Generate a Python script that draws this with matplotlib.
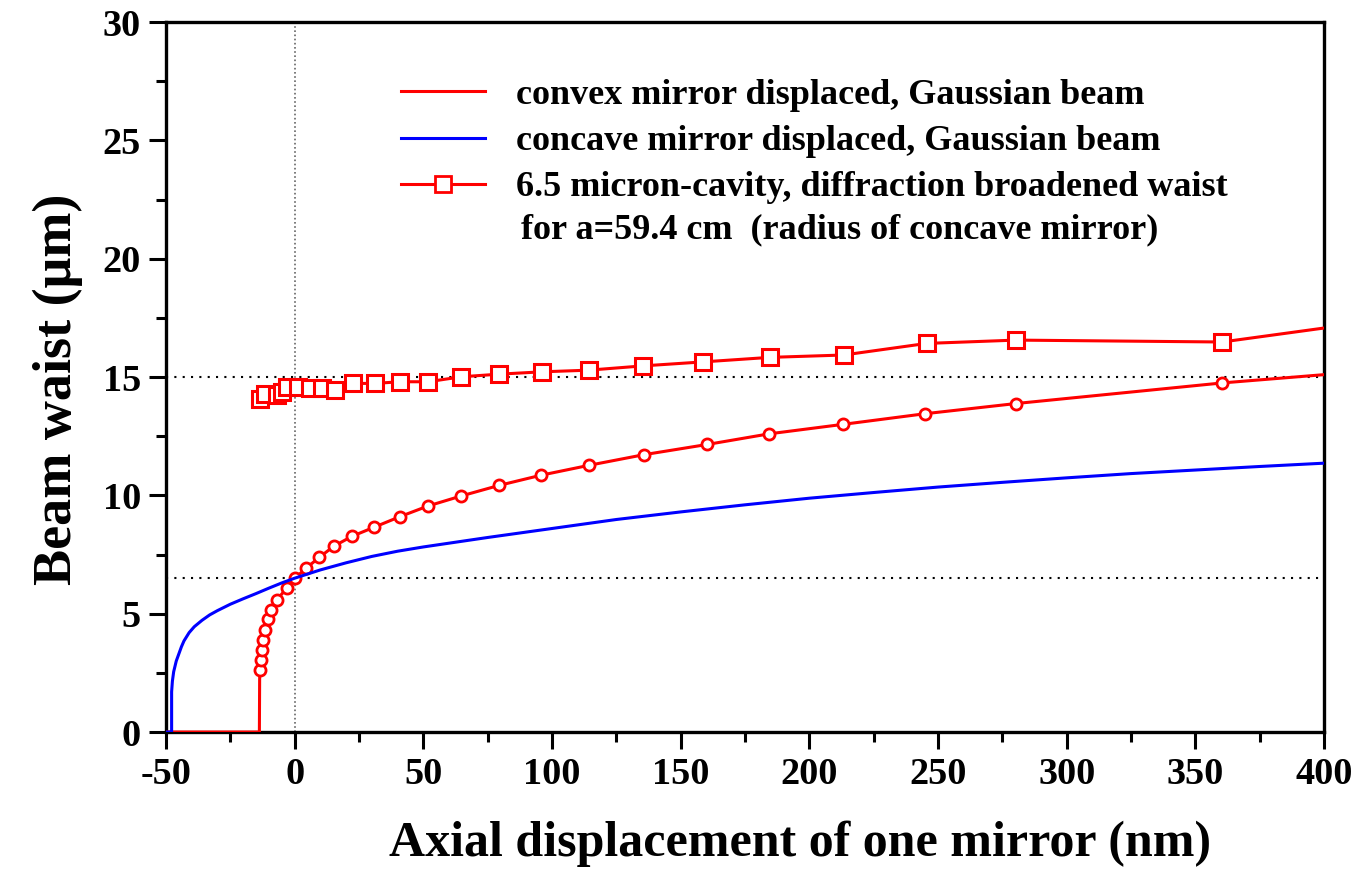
import matplotlib
matplotlib.use("Agg")
import matplotlib.pyplot as plt
from matplotlib.ticker import MultipleLocator

plt.rcParams['font.family'] = ['Liberation Serif', 'DejaVu Serif']
plt.rcParams['font.weight'] = 'bold'
plt.rcParams['axes.unicode_minus'] = False

# convex mirror displaced, Gaussian beam (zero below cut-off, then markers)
convex_x = [-50, -13.7, -13.6, -13.5, -13.1, -12.6, -12.2, -11.5, -10.3, -9.2, -7.0, -3.1,
            0.2, 4.4, 9.6, 15.2, 22.3, 30.8, 40.9, 51.8, 64.6, 79.4, 95.7, 114.4,
            135.8, 160.3, 184.4, 213.1, 245.0, 280.3, 360.4, 400]
convex_w = [0, 0, 2.2, 2.62, 3.04, 3.46, 3.90, 4.32, 4.78, 5.15, 5.58, 6.07,
            6.50, 6.92, 7.38, 7.85, 8.27, 8.65, 9.10, 9.55, 9.97, 10.42, 10.85, 11.27,
            11.72, 12.15, 12.60, 13.00, 13.45, 13.88, 14.75, 15.10]

# concave mirror displaced, Gaussian beam
concave_x = [-50, -47.8, -47.8, -47.5, -47.0, -46.0, -45.0, -44.0, -43.0, -41.0, -39.0,
             -36.0, -33.0, -30.0, -25.0, -20.0, -15.0, -10.0, -5.0, 0.0, 10.0, 20.0,
             30.0, 40.0, 50.0, 60.0, 75.0, 100.0, 125.0, 150.0, 175.0, 200.0, 225.0,
             250.0, 275.0, 300.0, 325.0, 350.0, 375.0, 400.0]
concave_w = [0, 0, 1.7, 2.15, 2.55, 3.0, 3.3, 3.6, 3.85, 4.2, 4.45,
             4.72, 4.95, 5.13, 5.4, 5.63, 5.85, 6.08, 6.3, 6.5, 6.85, 7.15,
             7.42, 7.64, 7.82, 7.98, 8.22, 8.6, 8.98, 9.3, 9.6, 9.88, 10.12,
             10.35, 10.55, 10.74, 10.92, 11.07, 11.22, 11.36]

# 6.5 micron cavity, diffraction broadened waist
cavity_x = [-13.5, -11.5, -7.0, -5.0, -3.1, 1.4, 6.0, 10.5, 15.7, 22.8, 31.2, 40.9,
            51.9, 64.8, 79.3, 96.2, 114.3, 135.3, 158.8, 184.6, 213.3, 245.6, 280.3,
            360.4, 400]
cavity_w = [14.09, 14.30, 14.24, 14.38, 14.59, 14.59, 14.52, 14.52, 14.45, 14.73, 14.73,
            14.80, 14.80, 15.01, 15.12, 15.22, 15.29, 15.47, 15.64, 15.83, 15.93, 16.42,
            16.56, 16.48, 17.07]

x_ticks = [-50, 0, 50, 100, 150, 200, 250, 300, 350, 400]
y_ticks = [0, 5, 10, 15, 20, 25, 30]

fig = plt.figure(figsize=(13.57, 8.77), dpi=100)
ax = fig.add_axes([0.1223, 0.1653, 0.8534, 0.8096])

ax.axhline(15, color='black', ls=(0, (1, 3)), lw=1.5, zorder=1)
ax.axhline(6.5, color='black', ls=(0, (1, 3)), lw=1.5, zorder=1)
ax.axvline(0, color='0.4', ls=(0, (1, 1.5)), lw=1.2, zorder=1)

ax.plot(convex_x, convex_w, color='red', lw=2.2, marker='o', ms=8,
        mfc='white', mec='red', mew=2, markevery=list(range(3, len(convex_x) - 1)),
        zorder=3)
ax.plot(concave_x, concave_w, color='blue', lw=2.2, zorder=4)
ax.plot(cavity_x, cavity_w, color='red', lw=2.2, marker='s', ms=11.5,
        mfc='white', mec='red', mew=2.2, markevery=list(range(len(cavity_x) - 1)),
        zorder=3)

h1 = plt.Line2D([], [], color='red', lw=2.2)
h2 = plt.Line2D([], [], color='blue', lw=2.2)
h3 = plt.Line2D([], [], color='red', lw=2.2, marker='s', ms=11, mfc='white', mec='red', mew=2)
ax.legend([h1, h2, h3],
          ['convex mirror displaced, Gaussian beam',
           'concave mirror displaced, Gaussian beam',
           '6.5 micron-cavity, diffraction broadened waist'],
          loc='upper left', bbox_to_anchor=(0.1745, 0.966), frameon=False,
          prop={'size': 26, 'weight': 'bold'}, handlelength=2.35, handletextpad=0.85,
          labelspacing=0.36)
ax.text(0.3066, 0.708, 'for a=59.4 cm  (radius of concave mirror)', transform=ax.transAxes,
        fontsize=26, fontweight='bold', va='center', ha='left')

ax.set_xlim(-50, 400)
ax.set_ylim(0, 30)
ax.set_xticks(x_ticks)
ax.set_yticks(y_ticks)
ax.xaxis.set_minor_locator(MultipleLocator(25))
ax.yaxis.set_minor_locator(MultipleLocator(2.5))
ax.tick_params(which='major', direction='out', length=12, width=2.2, labelsize=27.5, pad=6)
ax.tick_params(which='minor', direction='out', length=7, width=2.2)
ax.tick_params(top=False, right=False)
for s in ax.spines.values():
    s.set_linewidth(2.4)

ax.set_xlabel('Axial displacement of one mirror (nm)', fontsize=36, fontweight='bold')
ax.set_ylabel('Beam waist (\u03bcm)', fontsize=39, fontweight='bold')
ax.xaxis.set_label_coords(0.5475, -0.124)
ax.yaxis.set_label_coords(-0.072, 0.482)

fig.savefig('out.png', dpi=100)
